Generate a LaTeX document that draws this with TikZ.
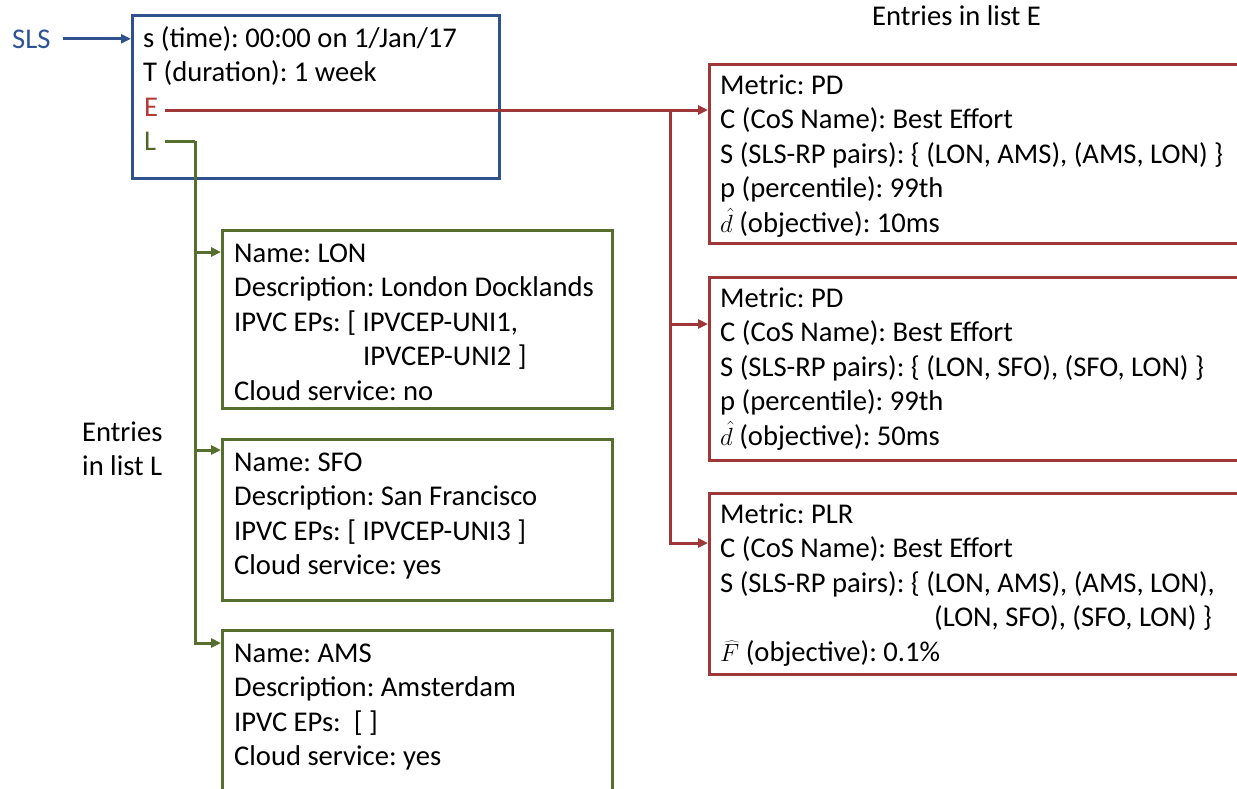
\documentclass[tikz,border=0pt]{standalone}
\usepackage{fontspec}
\setmainfont{Carlito}
\usetikzlibrary{arrows.meta,calc}
\definecolor{cblue}{RGB}{47,82,143}
\definecolor{cred}{RGB}{158,56,56}
\definecolor{cgreen}{RGB}{86,110,46}
\definecolor{tred}{RGB}{178,58,58}
\definecolor{tblue}{RGB}{46,84,150}
\definecolor{tgreen}{RGB}{80,102,40}
\newcommand{\bodyfont}{\fontsize{28.6}{34.5}\selectfont\frenchspacing}
\tikzset{
  box/.style={draw, line width=3pt, anchor=north west, inner sep=0pt},
  bluebox/.style={box, draw=cblue},
  redbox/.style={box, draw=cred},
  greenbox/.style={box, draw=cgreen},
  txt/.style={font=\bodyfont, inner sep=0pt, align=left, anchor=north west, text=black},
  lbl/.style={font=\bodyfont, inner sep=0pt, anchor=base west},
  conn/.style={line width=3pt, -{Triangle[length=10pt,width=9pt]}},
  bconn/.style={conn, draw=cblue},
  rconn/.style={conn, draw=cred},
  gconn/.style={conn, draw=cgreen},
  gline/.style={line width=3pt, draw=cgreen},
}
\begin{document}
\lineskiplimit=-100pt
\begin{tikzpicture}[x=1pt,y=-1pt]
\useasboundingbox (0,0) rectangle (1237,788);
\clip (0,0) rectangle (1237,788);

% top SLS box
\node[bluebox, minimum width=367pt, minimum height=163pt] (T) at (131,14) {};
\node[txt] (Tt) at (143,22.85) {\strut s (time): 00:00 on 1/Jan/17\\T (duration): 1 week};
\node[lbl, text=tred] (E) at (144,116) {E};
\node[lbl, text=tgreen] (L) at (144,150) {L};
\node[lbl, text=tblue] (SLS) at (12,48) {SLS};

% labels
\node[txt] (EL) at (82,416.85) {\strut Entries\\in list L};
\node[lbl] (EE) at (872,25) {Entries in list E};

% green boxes (list L)
\node[greenbox, minimum width=390pt, minimum height=178pt] (G1) at (221,229) {};
\node[txt] (G1t) at (234,237.85) {\strut Name: LON\\Description: London Docklands\\IPVC EPs: [ IPVCEP-UNI1,\\\hspace*{129pt}IPVCEP-UNI2 ]\\Cloud service: no};
\node[greenbox, minimum width=390pt, minimum height=161pt] (G2) at (221,438) {};
\node[txt] (G2t) at (234,446.85) {\strut Name: SFO\\Description: San Francisco\\IPVC EPs: [ IPVCEP-UNI3 ]\\Cloud service: yes};
\node[greenbox, minimum width=390pt, minimum height=180pt] (G3) at (221,629) {};
\node[txt] (G3t) at (234,637.85) {\strut Name: AMS\\Description: Amsterdam\\IPVC EPs:\ \ [ ]\\Cloud service: yes};

% red boxes (list E)
\node[redbox, minimum width=560pt, minimum height=179pt] (R1) at (708,63) {};
\node[txt] (R1t) at (720,69.85) {\strut Metric: PD\\C (CoS Name): Best Effort\\S (SLS-RP pairs): \{ (LON, AMS), (AMS, LON) \}\\p (percentile): 99th\\$\hat{d}$ (objective): 10ms};
\node[redbox, minimum width=560pt, minimum height=183pt] (R2) at (708,276) {};
\node[txt] (R2t) at (720,282.85) {\strut Metric: PD\\C (CoS Name): Best Effort\\S (SLS-RP pairs): \{ (LON, SFO), (SFO, LON) \}\\p (percentile): 99th\\$\hat{d}$ (objective): 50ms};
\node[redbox, minimum width=560pt, minimum height=181pt] (R3) at (708,492) {};
\node[txt] (R3t) at (720,498.85) {\strut Metric: PLR\\C (CoS Name): Best Effort\\S (SLS-RP pairs): \{ (LON, AMS), (AMS, LON),\\\hspace*{214pt}(LON, SFO), (SFO, LON) \}\\$\widehat{F}$ (objective): 0.1\%};

% connectors
\draw[bconn] ([xshift=12pt]SLS.east) -- (SLS.east -| T.west);

\coordinate (Es) at ([xshift=7pt,yshift=6pt]E.base east);
\coordinate (rj) at (670,110);
\draw[rconn] (Es) -- (Es -| R1.west);
\coordinate (R2a) at ([yshift=-48pt]R2.north west);
\coordinate (R3a) at ([yshift=-51pt]R3.north west);
\draw[rconn] (rj) |- (R2a);
\draw[rconn] (rj) |- (R3a);

\coordinate (Ls) at ([xshift=9pt,yshift=9pt]L.base east);
\coordinate (gj) at (195,141);
\draw[gline] (Ls) -- (gj);
\coordinate (G1a) at ([yshift=-23pt]G1.north west);
\coordinate (G2a) at ([yshift=-12pt]G2.north west);
\coordinate (G3a) at ([yshift=-14pt]G3.north west);
\draw[gconn] (gj) |- (G1a);
\draw[gconn] (gj) |- (G2a);
\draw[gconn] (gj) |- (G3a);
\end{tikzpicture}
\end{document}
